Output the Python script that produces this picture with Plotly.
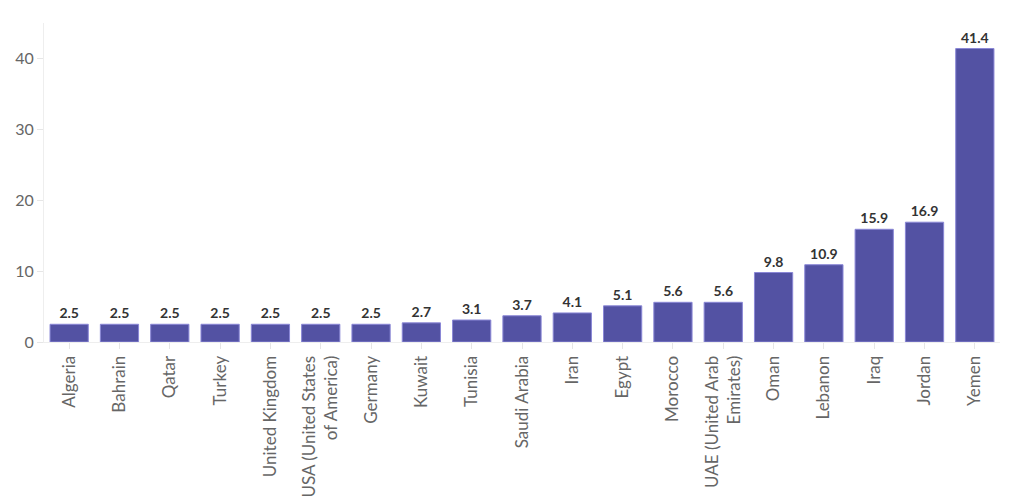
import plotly.graph_objects as go

countries = ["Algeria", "Bahrain", "Qatar", "Turkey", "United Kingdom",
             "USA (United States<br>of America)", "Germany", "Kuwait", "Tunisia",
             "Saudi Arabia", "Iran", "Egypt", "Morocco",
             "UAE (United Arab<br>Emirates)", "Oman", "Lebanon", "Iraq", "Jordan", "Yemen"]
values = [2.5, 2.5, 2.5, 2.5, 2.5, 2.5, 2.5, 2.7, 3.1, 3.7, 4.1, 5.1, 5.6, 5.6,
          9.8, 10.9, 15.9, 16.9, 41.4]
y_ticks = [0, 10, 20, 30, 40]

fig = go.Figure(go.Bar(
    x=countries, y=values,
    marker=dict(color="#5352a3", line=dict(color="#8a87d6", width=1)),
    text=[f"{v:.1f}" for v in values],
    textposition="outside",
    textfont=dict(family="Lato, sans-serif", size=14, color="#333333", weight="bold"),
    cliponaxis=False,
))

fig.update_layout(
    width=1020, height=502,
    margin=dict(l=36, r=28, t=15, b=168, autoexpand=False),
    paper_bgcolor="white", plot_bgcolor="white",
    bargap=0.24,
    showlegend=False,
    font=dict(family="Lato, sans-serif", size=16, color="#666666"),
)
fig.update_xaxes(
    tickangle=-90, showgrid=False, showline=True, linecolor="#eeeeee", linewidth=1,
    ticks="outside", tickcolor="#e6e6e6", ticklen=6, automargin=False,
    tickfont=dict(size=17, color="#666666"),
)
fig.update_yaxes(
    range=[0, 45], tickvals=y_ticks, showgrid=False, zeroline=False,
    showline=True, linecolor="#eeeeee", linewidth=1, automargin=False,
    ticks="outside", tickcolor="#e6e6e6", ticklen=6,
    tickfont=dict(size=16, color="#666666"),
)

fig.write_html("out.html")
